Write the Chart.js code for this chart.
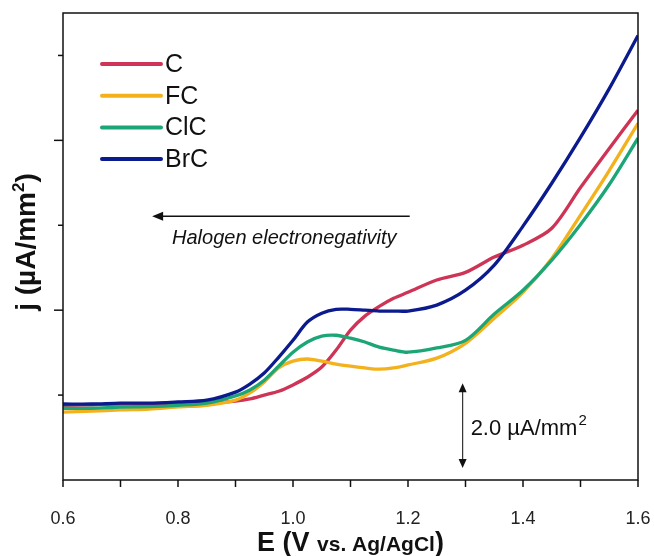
<!DOCTYPE html>
<html>
<head>
<meta charset="utf-8">
<script src="https://cdn.jsdelivr.net/npm/chart.js@4.4.1/dist/chart.umd.min.js"></script>
<style>
  html, body { margin: 0; padding: 0; background: #fff; }
  #wrap { width: 654px; height: 556px; }
</style>
</head>
<body>
<div id="wrap"><canvas id="lsvChart" width="654" height="556"></canvas></div>
<script>
// Potential (V vs. Ag/AgCl) and current density (µA/mm², offset scale)
var potentials = [0.6, 0.65, 0.7, 0.75, 0.8, 0.85, 0.9, 0.925, 0.95, 0.975, 1.0, 1.025, 1.05, 1.075, 1.1, 1.125, 1.15, 1.175, 1.2, 1.25, 1.3, 1.35, 1.4, 1.45, 1.5, 1.55, 1.6];
var jC   = [1.76, 1.77, 1.79, 1.80, 1.81, 1.81, 1.86, 1.91, 2.00, 2.09, 2.24, 2.42, 2.66, 3.06, 3.53, 3.86, 4.09, 4.28, 4.42, 4.71, 4.89, 5.25, 5.53, 5.93, 6.89, 7.81, 8.71];
var jFC  = [1.60, 1.62, 1.65, 1.67, 1.72, 1.76, 1.88, 2.05, 2.31, 2.64, 2.80, 2.85, 2.80, 2.73, 2.68, 2.64, 2.61, 2.64, 2.71, 2.87, 3.22, 3.81, 4.42, 5.22, 6.24, 7.29, 8.40];
var jClC = [1.69, 1.69, 1.72, 1.73, 1.76, 1.81, 1.98, 2.12, 2.35, 2.68, 3.01, 3.25, 3.39, 3.41, 3.34, 3.25, 3.13, 3.06, 3.01, 3.11, 3.29, 3.91, 4.47, 5.18, 6.02, 6.96, 8.05];
var jBrC = [1.79, 1.79, 1.81, 1.81, 1.84, 1.88, 2.07, 2.26, 2.52, 2.89, 3.29, 3.72, 3.93, 4.02, 4.02, 4.00, 3.98, 3.98, 3.98, 4.12, 4.47, 5.06, 5.98, 6.99, 8.07, 9.22, 10.47];

var seriesNames = ['C', 'FC', 'ClC', 'BrC'];
var seriesColors = ['#cd3455', '#f3b11b', '#1ca676', '#0b1a8c'];
var xTickLabels = [0.6, 0.8, 1.0, 1.2, 1.4, 1.6];

var FONT = '"Liberation Sans", Arial, sans-serif';

function toPoints(ys) {
    return potentials.map(function (x, i) { return { x: x, y: ys[i] }; });
}

var allSeries = [jC, jFC, jClC, jBrC];
var datasets = allSeries.map(function (ys, i) {
    return {
        label: seriesNames[i],
        data: toPoints(ys),
        borderColor: seriesColors[i],
        borderWidth: 3.3,
        pointRadius: 0,
        tension: 0.3,
        order: 4 - i
    };
});

// draws frame, ticks and tick labels, legend, annotations and axis titles
var decorations = {
    id: 'decorations',
    afterDraw: function (chart) {
        var ctx = chart.ctx;
        var area = chart.chartArea;
        var xs = chart.scales.x;
        var ys = chart.scales.y;
        ctx.save();

        // frame
        ctx.strokeStyle = '#111';
        ctx.lineWidth = 1.5;
        ctx.strokeRect(area.left, area.top, area.right - area.left, area.bottom - area.top);

        // x ticks
        for (var v = 0.6; v <= 1.6001; v += 0.1) {
            var px = xs.getPixelForValue(v);
            ctx.beginPath();
            ctx.moveTo(px, area.bottom);
            ctx.lineTo(px, area.bottom + 7);
            ctx.stroke();
        }
        // x tick labels
        ctx.fillStyle = '#222';
        ctx.font = '18px ' + FONT;
        ctx.textAlign = 'center';
        ctx.textBaseline = 'middle';
        xTickLabels.forEach(function (val) {
            ctx.fillText(val.toFixed(1), xs.getPixelForValue(val), area.bottom + 39);
        });

        // y ticks, major every 4, minor every 2
        for (var t = 2; t <= 10; t += 2) {
            var py = ys.getPixelForValue(t);
            var len = (t % 4 === 0) ? 9 : 5;
            ctx.beginPath();
            ctx.moveTo(area.left, py);
            ctx.lineTo(area.left - len, py);
            ctx.stroke();
        }

        // legend
        ctx.font = '25px ' + FONT;
        ctx.textAlign = 'left';
        ctx.lineCap = 'round';
        seriesNames.forEach(function (name, i) {
            var ly = 64 + i * 31.7;
            ctx.strokeStyle = seriesColors[i];
            ctx.lineWidth = 4;
            ctx.beginPath();
            ctx.moveTo(102, ly);
            ctx.lineTo(161, ly);
            ctx.stroke();
            ctx.fillStyle = '#111';
            ctx.fillText(name, 165, ly + 1);
        });
        ctx.lineCap = 'butt';

        // electronegativity arrow
        var ay = ys.getPixelForValue(6.21);
        var ax0 = xs.getPixelForValue(1.203);
        var ax1 = xs.getPixelForValue(0.755);
        ctx.strokeStyle = '#111';
        ctx.fillStyle = '#111';
        ctx.lineWidth = 1.5;
        ctx.beginPath();
        ctx.moveTo(ax0, ay);
        ctx.lineTo(ax1 + 8, ay);
        ctx.stroke();
        ctx.beginPath();
        ctx.moveTo(ax1, ay);
        ctx.lineTo(ax1 + 11, ay - 4.5);
        ctx.lineTo(ax1 + 11, ay + 4.5);
        ctx.closePath();
        ctx.fill();
        ctx.textBaseline = 'alphabetic';
        ctx.font = 'italic 20px ' + FONT;
        ctx.fillText('Halogen electronegativity', 172, ay + 28);

        // 2.0 µA/mm² scale bar
        var bx = xs.getPixelForValue(1.295);
        var b0 = ys.getPixelForValue(0.28);
        var b1 = ys.getPixelForValue(2.28);
        ctx.lineWidth = 1.2;
        ctx.strokeStyle = '#333';
        ctx.beginPath();
        ctx.moveTo(bx, b0 - 6);
        ctx.lineTo(bx, b1 + 6);
        ctx.stroke();
        ctx.beginPath();
        ctx.moveTo(bx, b1); ctx.lineTo(bx - 4, b1 + 9); ctx.lineTo(bx + 4, b1 + 9); ctx.closePath(); ctx.fill();
        ctx.beginPath();
        ctx.moveTo(bx, b0); ctx.lineTo(bx - 4, b0 - 9); ctx.lineTo(bx + 4, b0 - 9); ctx.closePath(); ctx.fill();
        ctx.fillStyle = '#111';
        ctx.font = '22px ' + FONT;
        var tx = bx + 8, tyb = (b0 + b1) / 2 + 9;
        ctx.fillText('2.0 \u00b5A/mm', tx, tyb);
        var w = ctx.measureText('2.0 \u00b5A/mm').width;
        ctx.font = '15px ' + FONT;
        ctx.fillText('2', tx + w + 1, tyb - 10);

        // x axis title: E (V vs. Ag/AgCl)
        var big = 'bold 27px ' + FONT;
        var small = 'bold 21px ' + FONT;
        var parts = [['E (V ', big], ['vs. Ag/AgCl', small], [')', big]];
        var total = 0;
        parts.forEach(function (p) { ctx.font = p[1]; total += ctx.measureText(p[0]).width; });
        var cx = (area.left + area.right) / 2 - total / 2;
        parts.forEach(function (p) {
            ctx.font = p[1];
            ctx.fillText(p[0], cx, 551);
            cx += ctx.measureText(p[0]).width;
        });

        // y axis title: j (µA/mm²)
        ctx.translate(35, 242);
        ctx.rotate(-Math.PI / 2);
        var ybig = 'bold 28px ' + FONT;
        var yparts = [['j (\u00b5A/mm', ybig, 0], ['2', 'bold 17px ' + FONT, -11], [')', ybig, 0]];
        total = 0;
        yparts.forEach(function (p) { ctx.font = p[1]; total += ctx.measureText(p[0]).width; });
        cx = -total / 2;
        yparts.forEach(function (p) {
            ctx.font = p[1];
            ctx.fillText(p[0], cx, p[2]);
            cx += ctx.measureText(p[0]).width;
        });
        ctx.restore();
    }
};

document.addEventListener("DOMContentLoaded", function () {
    var myContext = document.getElementById("lsvChart").getContext('2d');

    var myChart = new Chart(myContext, {
        type: 'line',
        data: { datasets: datasets },
        plugins: [decorations],
        options: {
            responsive: false,
            animation: false,
            layout: { padding: { top: 13, right: 16, left: 0, bottom: 0 } },
            plugins: {
                legend: { display: false },
                tooltip: { enabled: false }
            },
            scales: {
                x: {
                    type: 'linear',
                    min: 0.6,
                    max: 1.6,
                    afterFit: function (scale) { scale.height = 76; },
                    grid: { display: false, drawTicks: false },
                    border: { display: false },
                    ticks: { display: false }
                },
                y: {
                    type: 'linear',
                    min: 0,
                    max: 11,
                    afterFit: function (scale) { scale.width = 63; },
                    grid: { display: false, drawTicks: false },
                    border: { display: false },
                    ticks: { display: false }
                }
            }
        }
    });
});
</script>
</body>
</html>
